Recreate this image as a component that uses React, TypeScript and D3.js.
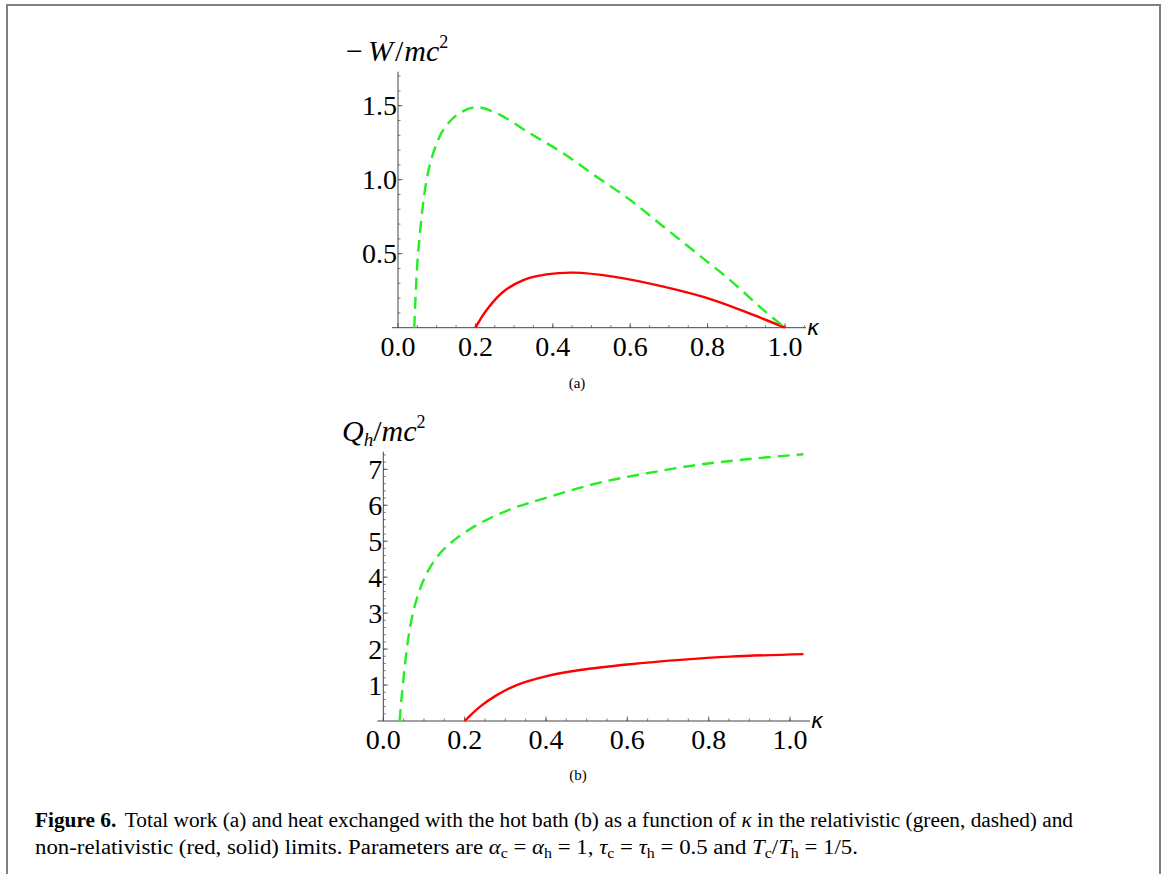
import React from 'react';
import * as d3 from 'd3';

// panel (a): total work -W/mc^2
const kappaWRel = [0.042, 0.05, 0.061, 0.074, 0.091, 0.117, 0.152, 0.2, 0.255, 0.341, 0.427, 0.513, 0.6, 0.686, 0.772, 0.858, 0.944, 1.0];
const wRel = [0, 0.435, 0.75, 1.0, 1.18, 1.336, 1.437, 1.49, 1.449, 1.313, 1.178, 1.02, 0.863, 0.682, 0.503, 0.322, 0.12, 0];
const kappaWNon = [0.2, 0.229, 0.272, 0.324, 0.384, 0.453, 0.556, 0.686, 0.815, 0.918, 1.0];
const wNon = [0, 0.12, 0.243, 0.322, 0.36, 0.372, 0.345, 0.277, 0.187, 0.086, 0];

// panel (b): heat from hot bath Q_h/mc^2
const kappaQRel = [0.04, 0.051, 0.066, 0.084, 0.107, 0.139, 0.18, 0.238, 0.32, 0.402, 0.525, 0.648, 0.771, 0.894, 1.033];
const qRel = [0, 1.33, 2.62, 3.46, 4.11, 4.66, 5.08, 5.5, 5.92, 6.21, 6.61, 6.89, 7.12, 7.28, 7.42];
const kappaQNon = [0.2, 0.238, 0.279, 0.328, 0.402, 0.484, 0.607, 0.73, 0.852, 1.033];
const qNon = [0, 0.4, 0.72, 1.0, 1.25, 1.42, 1.58, 1.7, 1.79, 1.86];

const xTicks = [0, 0.2, 0.4, 0.6, 0.8, 1.0];
const wTicks = [0.5, 1.0, 1.5];
const qTicks = [1, 2, 3, 4, 5, 6, 7];

const GREEN = '#22ee22';
const RED = '#ff0000';
const AXIS = '#444';
const serif = '"Liberation Serif", "DejaVu Serif", serif';

type PanelProps = {
  x: d3.ScaleLinear<number, number>;
  y: d3.ScaleLinear<number, number>;
  xEnd: number;
  yTop: number;
  yTicks: number[];
  yMinorStep: number;
  yFmt: (v: number) => string;
  rel: [number[], number[]];
  non: [number[], number[]];
};

function Panel({ x, y, xEnd, yTop, yTicks, yMinorStep, yFmt, rel, non }: PanelProps) {
  const x0 = x(0);
  const y0 = y(0);
  const line = d3.line<[number, number]>()
    .x(d => x(d[0]))
    .y(d => y(d[1]))
    .curve(d3.curveCatmullRom.alpha(0.5));
  const relPts = rel[0].map((k, i) => [k, rel[1][i]] as [number, number]);
  const nonPts = non[0].map((k, i) => [k, non[1][i]] as [number, number]);

  const xMinor = d3.range(0.05, x.invert(xEnd), 0.05);
  const yMinor = d3.range(yMinorStep, y.invert(yTop), yMinorStep);

  return (
    <g>
      {xMinor.map(v => (
        <line key={'xm' + v} x1={x(v)} x2={x(v)} y1={y0} y2={y0 - 2.5} stroke={AXIS} strokeWidth={0.7} />
      ))}
      {xTicks.map(v => (
        <line key={'xt' + v} x1={x(v)} x2={x(v)} y1={y0} y2={y0 - 4.5} stroke={AXIS} strokeWidth={0.8} />
      ))}
      {yMinor.map(v => (
        <line key={'ym' + v} x1={x0} x2={x0 + 2.5} y1={y(v)} y2={y(v)} stroke={AXIS} strokeWidth={0.7} />
      ))}
      {yTicks.map(v => (
        <line key={'yt' + v} x1={x0} x2={x0 + 4.5} y1={y(v)} y2={y(v)} stroke={AXIS} strokeWidth={0.8} />
      ))}
      <line x1={x0 - 6} x2={xEnd} y1={y0} y2={y0} stroke={AXIS} strokeWidth={1} />
      <line x1={x0} x2={x0} y1={y0} y2={yTop} stroke={AXIS} strokeWidth={1} />

      {xTicks.map(v => (
        <text key={'xl' + v} x={x(v)} y={y0 + 28} textAnchor="middle" fontFamily={serif} fontSize={28}>
          {v.toFixed(1)}
        </text>
      ))}
      {yTicks.map(v => (
        <text key={'yl' + v} x={x0 - 1} y={y(v) + 9.5} textAnchor="end" fontFamily={serif} fontSize={28}>
          {yFmt(v)}
        </text>
      ))}

      <path d={line(nonPts) || ''} fill="none" stroke={RED} strokeWidth={2.4} />
      <path d={line(relPts) || ''} fill="none" stroke={GREEN} strokeWidth={2.4} strokeDasharray="12,7" />

      <text x={xEnd + 1} y={y0 + 7} fontFamily='"DejaVu Sans", sans-serif' fontStyle="italic" fontSize={21}>κ</text>
    </g>
  );
}

export default function App() {
  const xa = d3.scaleLinear().domain([0, 1]).range([398, 785]);
  const ya = d3.scaleLinear().domain([0, 1.5]).range([327.7, 105.7]);
  const xb = d3.scaleLinear().domain([0, 1]).range([383.3, 790]);
  const yb = d3.scaleLinear().domain([0, 7]).range([721, 469.3]);

  const capSize = 20;
  const sub = 14;
  return (
    <svg width={1163} height={874} style={{ position: 'absolute', left: 0, top: 0, background: '#fff' }}>
      <rect x={0} y={0} width={1163} height={874} fill="#fff" />
      {/* frame */}
      <path d="M7,874 V5 H1160 V874" fill="none" stroke="#808080" strokeWidth={2} />

      <Panel x={xa} y={ya} xEnd={806} yTop={71.7} yTicks={wTicks} yMinorStep={0.1}
        yFmt={v => v.toFixed(1)} rel={[kappaWRel, wRel]} non={[kappaWNon, wNon]} />
      <text x={346} y={61} fontFamily={serif} fontSize={30}>
        <tspan>−</tspan>
        <tspan dx={5} fontStyle="italic">W</tspan>
        <tspan dx={2}>/</tspan>
        <tspan dx={1} fontStyle="italic">mc</tspan>
        <tspan fontSize={18} dy={-13}>2</tspan>
      </text>
      <text x={577} y={388} textAnchor="middle" fontFamily={serif} fontSize={15}>(a)</text>

      <Panel x={xb} y={yb} xEnd={810} yTop={451.7} yTicks={qTicks} yMinorStep={0.2}
        yFmt={v => String(v)} rel={[kappaQRel, qRel]} non={[kappaQNon, qNon]} />
      <text x={342} y={441} fontFamily={serif} fontSize={30}>
        <tspan fontStyle="italic">Q</tspan>
        <tspan fontStyle="italic" fontSize={19} dy={5}>h</tspan>
        <tspan dy={-5}>/</tspan>
        <tspan fontStyle="italic">mc</tspan>
        <tspan fontSize={18} dy={-13}>2</tspan>
      </text>
      <text x={578} y={780} textAnchor="middle" fontFamily={serif} fontSize={15}>(b)</text>

      {/* caption */}
      <text x={35} y={827} fontFamily={serif} fontSize={capSize} textLength={1038} lengthAdjust="spacingAndGlyphs">
        <tspan fontWeight="bold">Figure 6.</tspan>
        <tspan dx={8}>Total work (a) and heat exchanged with the hot bath (b) as a function of </tspan>
        <tspan fontStyle="italic">κ</tspan>
        <tspan> in the relativistic (green, dashed) and</tspan>
      </text>
      <text x={35} y={854} fontFamily={serif} fontSize={capSize} textLength={823} lengthAdjust="spacingAndGlyphs">
        <tspan>non-relativistic (red, solid) limits. Parameters are </tspan>
        <tspan fontStyle="italic">α</tspan><tspan fontSize={sub} dy={4}>c</tspan>
        <tspan dy={-4}> = </tspan>
        <tspan fontStyle="italic">α</tspan><tspan fontSize={sub} dy={4}>h</tspan>
        <tspan dy={-4}> = 1, </tspan>
        <tspan fontStyle="italic">τ</tspan><tspan fontSize={sub} dy={4}>c</tspan>
        <tspan dy={-4}> = </tspan>
        <tspan fontStyle="italic">τ</tspan><tspan fontSize={sub} dy={4}>h</tspan>
        <tspan dy={-4}> = 0.5 and </tspan>
        <tspan fontStyle="italic">T</tspan><tspan fontSize={sub} dy={4}>c</tspan>
        <tspan dy={-4}>/</tspan>
        <tspan fontStyle="italic">T</tspan><tspan fontSize={sub} dy={4}>h</tspan>
        <tspan dy={-4}> = 1/5.</tspan>
      </text>
    </svg>
  );
}
